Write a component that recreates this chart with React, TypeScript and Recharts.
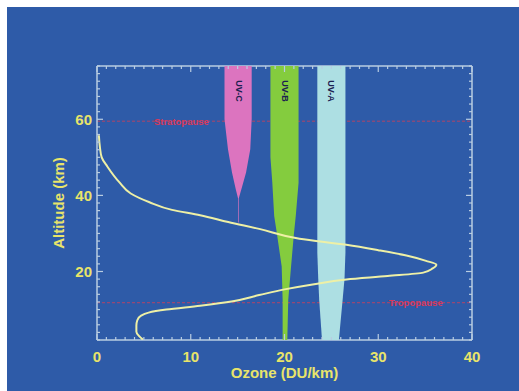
import React from 'react';
import { ComposedChart, Scatter, XAxis, YAxis, ReferenceLine } from 'recharts';

// ozone profile, read top to bottom
const ozoneAlt = [55.8, 52.9, 50, 47.6, 43.4, 40.5, 38.2, 36.2, 34.8, 33, 31.2, 28.6, 27, 25.6, 24.2, 22.8, 21.8, 20.8, 19.7, 18.8, 17.9, 16.6, 15.3, 13.8, 12.2, 11, 10, 9.2, 8.4, 7.2, 5.8, 4.2, 3, 2.1];
const ozoneDU = [0.2, 0.3, 0.5, 1.1, 2.4, 3.6, 5.6, 8.0, 11, 14, 17.3, 21.6, 26.6, 30, 33, 35.1, 36.2, 35.8, 34.8, 31, 26.6, 23, 20, 17.3, 14.5, 11, 7.4, 5.5, 4.7, 4.3, 4.2, 4.2, 4.5, 4.9];

// UV bands: altitude with left / right edge (DU/km axis)
const uvcAlt = [74, 60, 52.1, 46, 41.6, 39.4, 39.2, 32.9];
const uvcLeft = [13.6, 13.6, 13.97, 14.4, 14.8, 15.03, 15.05, 15.05];
const uvcRight = [16.5, 16.5, 16.35, 15.9, 15.4, 15.14, 15.12, 15.12];

const uvbAlt = [74, 50, 43.3, 34.6, 29.8, 21.3, 12.6, 2];
const uvbLeft = [18.5, 18.5, 18.7, 18.9, 19.2, 19.7, 19.8, 19.8];
const uvbRight = [21.5, 21.5, 21.5, 21.2, 21.0, 20.7, 20.4, 20.3];

const uvaAlt = [74, 25, 18, 12.6, 2];
const uvaLeft = [23.5, 23.5, 23.6, 23.7, 24.0];
const uvaRight = [26.5, 26.5, 26.4, 26.2, 25.8];

const bandNames = ['UV-C', 'UV-B', 'UV-A'];
const bandLabelDU = [15.1, 20, 25];
const bandLabelAlt = [67.4, 67.4, 67.4];

const layerNames = ['Stratopause', 'Tropopause'];
const layerAlt = [59.5, 11.8];
const layerLabelDU = [9, 34];

const xMajor = [0, 10, 20, 30, 40];
const yMajor = [20, 40, 60];
const xTicks = Array.from({ length: 41 }, (_, i) => i);
const yTicks = Array.from({ length: 37 }, (_, i) => 2 + i * 2);

const BLUE = '#2e5ba8';
const AXIS = '#b9cde2';
const YELLOW = '#e8e46a';
const FONT = '"Liberation Sans", Arial, sans-serif';

const ozone = ozoneAlt.map((alt, i) => ({ alt, oz: ozoneDU[i] }));

function band(alts: number[], left: number[], right: number[]) {
  const down = alts.map((alt, i) => ({ alt, oz: left[i] }));
  const up = alts.map((alt, i) => ({ alt, oz: right[i] })).reverse();
  return [...down, ...up];
}

const bands = [
  { data: band(uvcAlt, uvcLeft, uvcRight), color: '#dc74bf' },
  { data: band(uvbAlt, uvbLeft, uvbRight), color: '#84cc3e' },
  { data: band(uvaAlt, uvaLeft, uvaRight), color: '#addfe3' },
];

const bandLabels = bandNames.map((name, i) => ({ name, oz: bandLabelDU[i], alt: bandLabelAlt[i] }));
const layerLabels = layerNames.map((name, i) => ({ name, oz: layerLabelDU[i], alt: layerAlt[i] }));

const Nothing = () => <g />;

const BottomTick = (props: any) => {
  const { x, y, payload } = props;
  const major = xMajor.includes(payload.value);
  return (
    <g>
      <line x1={x} x2={x} y1={y} y2={y - (major ? 6 : 3)} stroke={AXIS} strokeWidth={1.2} />
      {major && (
        <text x={x} y={y + 22} textAnchor="middle" fill={YELLOW} fontSize={15} fontWeight="bold" fontFamily={FONT}>
          {payload.value}
        </text>
      )}
    </g>
  );
};

const TopTick = (props: any) => {
  const { x, y, payload } = props;
  const major = xMajor.includes(payload.value);
  return <line x1={x} x2={x} y1={y} y2={y + (major ? 6 : 3)} stroke={AXIS} strokeWidth={1.2} />;
};

const LeftTick = (props: any) => {
  const { x, y, payload } = props;
  const major = yMajor.includes(payload.value);
  return (
    <g>
      <line x1={x} x2={x + (major ? 6 : 3)} y1={y} y2={y} stroke={AXIS} strokeWidth={1.2} />
      {major && (
        <text x={x - 5} y={y + 5.5} textAnchor="end" fill={YELLOW} fontSize={15} fontWeight="bold" fontFamily={FONT}>
          {payload.value}
        </text>
      )}
    </g>
  );
};

const RightTick = (props: any) => {
  const { x, y, payload } = props;
  const major = yMajor.includes(payload.value);
  return <line x1={x} x2={x - (major ? 6 : 3)} y1={y} y2={y} stroke={AXIS} strokeWidth={1.2} />;
};

const BandText = (props: any) => {
  const { cx, cy, payload } = props;
  return (
    <text
      x={cx}
      y={cy}
      transform={`rotate(90 ${cx} ${cy})`}
      textAnchor="middle"
      dominantBaseline="central"
      fill="#1c2150"
      fontSize={9}
      fontWeight="bold"
      fontFamily={FONT}
    >
      {payload.name}
    </text>
  );
};

const LayerText = (props: any) => {
  const { cx, cy, payload } = props;
  return (
    <text x={cx} y={cy} textAnchor="middle" dominantBaseline="central" fill="#d63a5c" fontSize={9.5} fontWeight="bold" fontFamily={FONT}>
      {payload.name}
    </text>
  );
};

export default function App() {
  return (
    <div style={{ position: 'absolute', left: 0, top: 0, width: 519, height: 391, background: '#ffffff' }}>
      <div style={{ position: 'absolute', left: 7, top: 7, width: 512, height: 384, background: BLUE }} />
      <div style={{ position: 'absolute', left: 0, top: 0 }}>
        <ComposedChart width={519} height={391} margin={{ top: 64, right: 45, bottom: 11, left: 57 }}>
          <XAxis
            xAxisId={0}
            type="number"
            dataKey="oz"
            domain={[0, 40]}
            allowDataOverflow
            ticks={xTicks}
            interval={0}
            tickSize={0}
            tickMargin={0}
            tickLine={false}
            tick={BottomTick}
            height={40}
            axisLine={{ stroke: AXIS, strokeWidth: 1.5 }}
            label={({ viewBox }: any) => (
              <text
                x={viewBox.x + viewBox.width / 2}
                y={viewBox.y + 38}
                textAnchor="middle"
                fill={YELLOW}
                fontSize={15}
                fontWeight="bold"
                fontFamily={FONT}
              >
                Ozone (DU/km)
              </text>
            )}
          />
          <XAxis
            xAxisId="top"
            orientation="top"
            type="number"
            dataKey="oz"
            domain={[0, 40]}
            allowDataOverflow
            ticks={xTicks}
            interval={0}
            tickSize={0}
            tickMargin={0}
            tickLine={false}
            tick={TopTick}
            height={2}
            axisLine={{ stroke: AXIS, strokeWidth: 1.5 }}
          />
          <YAxis
            yAxisId={0}
            type="number"
            dataKey="alt"
            domain={[2, 74]}
            allowDataOverflow
            ticks={yTicks}
            interval={0}
            tickSize={0}
            tickMargin={0}
            tickLine={false}
            tick={LeftTick}
            width={40}
            axisLine={{ stroke: AXIS, strokeWidth: 1.5 }}
            label={({ viewBox }: any) => {
              const cx = viewBox.x + 1;
              const cy = viewBox.y + viewBox.height / 2;
              return (
                <text
                  x={cx}
                  y={cy}
                  transform={`rotate(-90 ${cx} ${cy})`}
                  textAnchor="middle"
                  dominantBaseline="central"
                  fill={YELLOW}
                  fontSize={15}
                  fontWeight="bold"
                  fontFamily={FONT}
                >
                  Altitude (km)
                </text>
              );
            }}
          />
          <YAxis
            yAxisId="right"
            orientation="right"
            type="number"
            dataKey="alt"
            domain={[2, 74]}
            allowDataOverflow
            ticks={yTicks}
            interval={0}
            tickSize={0}
            tickMargin={0}
            tickLine={false}
            tick={RightTick}
            width={2}
            axisLine={{ stroke: AXIS, strokeWidth: 1.5 }}
          />

          {bands.map((b, i) => (
            <Scatter
              key={`band-${i}`}
              data={b.data}
              shape={Nothing}
              line={{ fill: b.color, stroke: 'none' }}
              lineJointType="linear"
              isAnimationActive={false}
            />
          ))}

          <Scatter
            data={ozone}
            shape={Nothing}
            line={{ stroke: '#eef0a6', strokeWidth: 2, fill: 'none' }}
            lineJointType="monotoneY"
            isAnimationActive={false}
          />

          {layerAlt.map((alt) => (
            <ReferenceLine key={alt} y={alt} stroke="#c8405c" strokeWidth={1} strokeDasharray="3 2" strokeOpacity={0.85} />
          ))}

          <Scatter xAxisId="top" yAxisId="right" data={bandLabels} shape={BandText} isAnimationActive={false} />
          <Scatter xAxisId="top" yAxisId="right" data={layerLabels} shape={LayerText} isAnimationActive={false} />
        </ComposedChart>
      </div>
    </div>
  );
}
